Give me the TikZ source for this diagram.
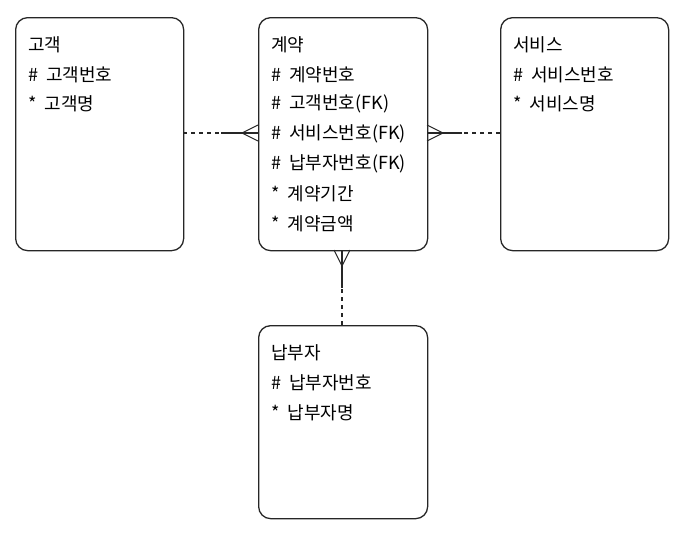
\documentclass[tikz,border=0pt]{standalone}
\usepackage{fontspec}
\setmainfont{Noto Sans CJK KR}
\begin{document}
\begin{tikzpicture}[x=1pt,y=-1pt,
 ent/.style={draw=black!85,line width=1.3pt,rounded corners=12pt,anchor=north west},
 txt/.style={anchor=west,font=\fontsize{18}{21}\selectfont,inner sep=0pt},
 ln/.style={draw=black!85,line width=1.1pt},
 dsh/.style={ln,dash pattern=on 4pt off 4pt}]
\useasboundingbox (0,0) rectangle (696,536);
\node[ent,minimum width=168pt,minimum height=233pt] (g) at (15,17) {};
\node[ent,minimum width=169pt,minimum height=233pt] (c) at (258,17) {};
\node[ent,minimum width=168pt,minimum height=233pt] (s) at (500,17) {};
\node[ent,minimum width=169pt,minimum height=193pt] (n) at (258,325) {};
\node[txt] (g1) at (28,45) {고객};
\node[txt] (g2) at (28,75) {\#\ \ 고객번호};
\node[txt] (g3) at (28,104) {*\ \ 고객명};
\node[txt] (c1) at (271,45) {계약};
\node[txt] (c2) at (271,75) {\#\ \ 계약번호};
\node[txt] (c3) at (271,104) {\#\ \ 고객번호(FK)};
\node[txt] (c4) at (271,134) {\#\ \ 서비스번호(FK)};
\node[txt] (c5) at (271,164) {\#\ \ 납부자번호(FK)};
\node[txt] (c6) at (271,194) {*\ \ 계약기간};
\node[txt] (c7) at (271,224) {*\ \ 계약금액};
\node[txt] (s1) at (513,45) {서비스};
\node[txt] (s2) at (513,75) {\#\ \ 서비스번호};
\node[txt] (s3) at (513,104) {*\ \ 서비스명};
\node[txt] (n1) at (271,353) {납부자};
\node[txt] (n2) at (271,383) {\#\ \ 납부자번호};
\node[txt] (n3) at (271,413) {*\ \ 납부자명};
% left
\coordinate (la) at (183,133); \coordinate (lb) at (221,133);
\draw[dsh] (la) -- (lb);
\draw[ln] (lb) -- (258,133);
\draw[ln] (258,125) -- (242,133) -- (258,141);
% right
\coordinate (ra) at (500,133); \coordinate (rb) at (462,133);
\draw[dsh] (ra) -- (rb);
\draw[ln] (rb) -- (427,133);
\draw[ln] (427,125) -- (443,133) -- (427,141);
% bottom
\coordinate (ba) at (342,325); \coordinate (bb) at (342,288);
\draw[dsh] (ba) -- (bb);
\draw[ln] (bb) -- (342,250);
\draw[ln] (334,250) -- (342,266) -- (350,250);
\end{tikzpicture}
\end{document}
